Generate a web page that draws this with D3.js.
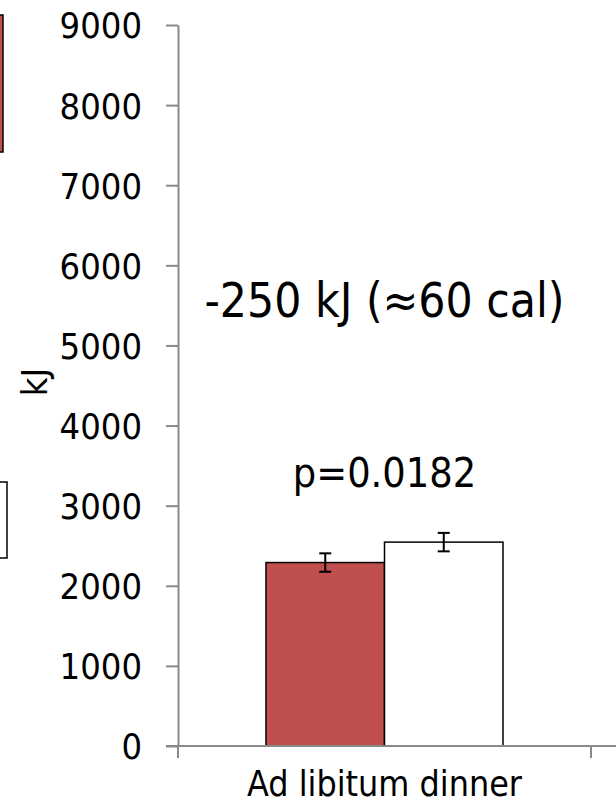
<!DOCTYPE html>
<html>
<head>
<meta charset="utf-8">
<script src="https://cdn.jsdelivr.net/npm/d3@7"></script>
<style>
  html, body { margin: 0; padding: 0; background: #fff; }
  svg { display: block; }
  text { font-family: "DejaVu Sans Condensed", "DejaVu Sans", sans-serif; font-stretch: condensed; fill: #000; }
</style>
</head>
<body>
<svg id="chart" width="616" height="812"></svg>
<script>
// ---- data ----
const categories = ["Ad libitum dinner"];
const seriesNames = ["Intervention", "Control"];
const seriesValues = [2290, 2545];
const seriesErrors = [115, 115];
const seriesColors = ["#c0504d", "#ffffff"];
const yTicks = [0, 1000, 2000, 3000, 4000, 5000, 6000, 7000, 8000, 9000];
const yLabel = "kJ";
const annotations = ["-250 kJ (\u224860 cal)", "p=0.0182"];

// ---- layout ----
const svg = d3.select("#chart");
const axisColor = "#898989";
const plot = { left: 178, right: 591, top: 25, bottom: 746 };

const y = d3.scaleLinear().domain([0, 9000]).range([plot.bottom, plot.top]);
const x = d3.scaleBand().domain(categories).range([plot.left, plot.right]).paddingInner(0).paddingOuter(0);
const xs = d3.scaleBand().domain(seriesNames).range([88, x.bandwidth() - 88]).padding(0);

// clipped legend fragments at left edge
svg.append("rect").attr("x", -40).attr("y", 15).attr("width", 43).attr("height", 137)
  .attr("fill", seriesColors[0]).attr("stroke", "#000").attr("stroke-width", 1.5);
svg.append("rect").attr("x", -40).attr("y", 482).attr("width", 47).attr("height", 76)
  .attr("fill", seriesColors[1]).attr("stroke", "#000").attr("stroke-width", 1.5);

// bars
const g = svg.append("g");
const data = seriesNames.map((s, i) => ({ cat: categories[0], s, v: seriesValues[i], e: seriesErrors[i], c: seriesColors[i] }));
g.selectAll("rect.bar").data(data).enter().append("rect")
  .attr("class", "bar")
  .attr("x", d => x(d.cat) + xs(d.s))
  .attr("y", d => y(d.v))
  .attr("width", xs.bandwidth())
  .attr("height", d => y(0) - y(d.v))
  .attr("fill", d => d.c)
  .attr("stroke", "#000")
  .attr("stroke-width", 1.5);

// error bars
const eb = g.selectAll("g.err").data(data).enter().append("g").attr("class", "err")
  .attr("stroke", "#000").attr("stroke-width", 2);
const cx = d => x(d.cat) + xs(d.s) + xs.bandwidth() / 2;
eb.append("line").attr("x1", cx).attr("x2", cx).attr("y1", d => y(d.v + d.e)).attr("y2", d => y(d.v - d.e));
eb.append("line").attr("x1", d => cx(d) - 6).attr("x2", d => cx(d) + 6).attr("y1", d => y(d.v + d.e)).attr("y2", d => y(d.v + d.e));
eb.append("line").attr("x1", d => cx(d) - 6).attr("x2", d => cx(d) + 6).attr("y1", d => y(d.v - d.e)).attr("y2", d => y(d.v - d.e));

// y axis
const yAxis = svg.append("g").attr("transform", `translate(${plot.left},0)`)
  .call(d3.axisLeft(y).tickValues(yTicks).tickFormat(d3.format("d")).tickSize(12).tickPadding(24).tickSizeOuter(0));
yAxis.select(".domain").attr("stroke", axisColor).attr("stroke-width", 2);
yAxis.selectAll(".tick line").attr("stroke", axisColor).attr("stroke-width", 2);
yAxis.selectAll(".tick text").attr("font-size", 36).attr("font-family", null).attr("dy", "0.36em");

// x axis
const xAxis = svg.append("g").attr("transform", `translate(0,${plot.bottom})`)
  .call(d3.axisBottom(x).tickSize(0).tickPadding(25));
xAxis.select(".domain").remove();
xAxis.append("line").attr("x1", plot.left - 12).attr("x2", 616).attr("y1", 0).attr("y2", 0)
  .attr("stroke", axisColor).attr("stroke-width", 2);
xAxis.selectAll(".boundary").data([plot.left, plot.right]).enter().append("line")
  .attr("x1", d => d).attr("x2", d => d).attr("y1", 0).attr("y2", 12)
  .attr("stroke", axisColor).attr("stroke-width", 2);
xAxis.selectAll(".tick text").attr("font-size", 35.5).attr("font-family", null)
  .attr("dy", "0.71em");

// y label
svg.append("text").attr("transform", "translate(47,382) rotate(-90)")
  .attr("text-anchor", "middle").attr("font-size", 36).text(yLabel);

// annotations
const midX = x(categories[0]) + x.bandwidth() / 2;
svg.append("text").attr("x", midX).attr("y", 317).attr("text-anchor", "middle")
  .attr("font-size", 47.5).text(annotations[0]);
svg.append("text").attr("x", midX).attr("y", 487).attr("text-anchor", "middle")
  .attr("font-size", 41).text(annotations[1]);
</script>
</body>
</html>
